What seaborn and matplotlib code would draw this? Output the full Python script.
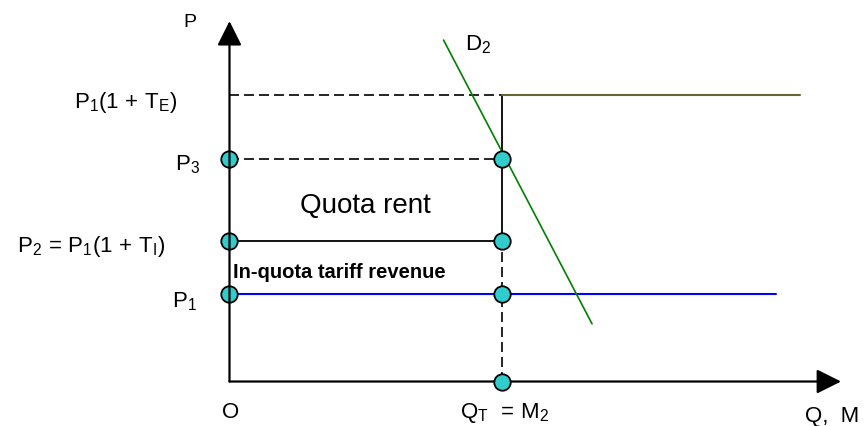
"""
Tariff-rate quota diagram: in-quota tariff revenue and quota rent.
"""

import matplotlib
matplotlib.use("Agg")
import matplotlib.pyplot as plt
import seaborn as sns

# quantity of the quota and the price levels
quota_q = 5.0
p1 = 2.0      # world price
p2 = 3.2      # P1(1 + T_I)
p3 = 5.05     # domestic price at the quota
pe = 6.5      # P1(1 + T_E)

world_end_q = 10.0
over_quota_end_q = 10.45

# demand curve D2
demand_q = [3.92, 6.64]
demand_p = [7.76, 1.31]

# teal points
circle_q = [0, 0, 0, quota_q, quota_q, quota_q, quota_q]
circle_p = [p1, p2, p3, p1, p2, p3, 0]

sns.set_style("white")
plt.rcParams["font.family"] = ["Liberation Sans", "DejaVu Sans"]
plt.rcParams["text.color"] = "black"
plt.rcParams["mathtext.fontset"] = "custom"
plt.rcParams["mathtext.rm"] = "Liberation Sans"
plt.rcParams["mathtext.it"] = "Liberation Sans"

fig = plt.figure(figsize=(8.65, 4.26), dpi=100)
ax = fig.add_axes([0, 0, 1, 1])
ax.set_xlim(-4.203, 11.639)
ax.set_ylim(-1.011, 8.670)
ax.set_axis_off()

dash = (0, (6, 3))
kw = dict(ax=ax, estimator=None, sort=False, legend=False)

# dashed guides
sns.lineplot(x=[0, quota_q], y=[pe, pe], color="black", lw=1.2, linestyle=dash, **kw)
sns.lineplot(x=[0, quota_q], y=[p3, p3], color="black", lw=1.2, linestyle=dash, **kw)
sns.lineplot(x=[quota_q, quota_q], y=[0, p2], color="black", lw=1.2, linestyle=dash, **kw)

# supply with the quota
sns.lineplot(x=[quota_q, quota_q], y=[p2, pe], color="black", lw=1.3, **kw)
sns.lineplot(x=[0, quota_q], y=[p2, p2], color="black", lw=1.3, **kw)
sns.lineplot(x=[quota_q, over_quota_end_q], y=[pe, pe], color="#666633", lw=1.5, **kw)
sns.lineplot(x=[0, world_end_q], y=[p1, p1], color="#0000ff", lw=1.5, **kw)

# demand
sns.lineplot(x=demand_q, y=demand_p, color="#008000", lw=1.2, **kw)

sns.scatterplot(x=circle_q, y=circle_p, s=140, color="#33cccc", edgecolor="black",
                linewidth=1.3, zorder=5, ax=ax, legend=False)

# axes with arrows
arrow = dict(arrowstyle="-|>,head_length=1.0,head_width=0.5", mutation_scale=15,
             lw=1.6, color="black", shrinkA=0, shrinkB=0)
ax.annotate("", xy=(0, 8.19), xytext=(0, 0), arrowprops=arrow, zorder=6)
ax.annotate("", xy=(11.2, 0), xytext=(0, 0), arrowprops=arrow, zorder=3)

fs = 16
ax.text(-0.85, 8.06, "P", fontsize=14)
ax.text(-0.96, pe - 0.28, r"$\mathregular{P_1(1\,+\,T_E)}$", fontsize=fs, ha="right")
ax.text(-0.54, p3 - 0.25, r"$\mathregular{P_3}$", fontsize=fs, ha="right")
ax.text(-1.18, p2 - 0.26, r"$\mathregular{P_2\,=\,P_1(1\,+\,T_I)}$", fontsize=fs, ha="right")
ax.text(-0.6, p1 - 0.31, r"$\mathregular{P_1}$", fontsize=fs, ha="right")
ax.text(4.31, 7.53, r"$\mathregular{D_2}$", fontsize=fs)
ax.text(2.48, 3.83, "Quota rent", fontsize=20, ha="center")
ax.text(0.06, 2.35, "In-quota tariff revenue", fontsize=14.5, fontweight="bold")
ax.text(0.02, -0.83, "O", fontsize=fs, ha="center")
ax.text(quota_q + 0.04, -0.83, r"$\mathregular{Q_T\ \,=\,M_2}$", fontsize=fs, ha="center")
ax.text(10.54, -0.93, "Q,  M", fontsize=fs)

fig.savefig("out.png", dpi=100)
plt.close(fig)
